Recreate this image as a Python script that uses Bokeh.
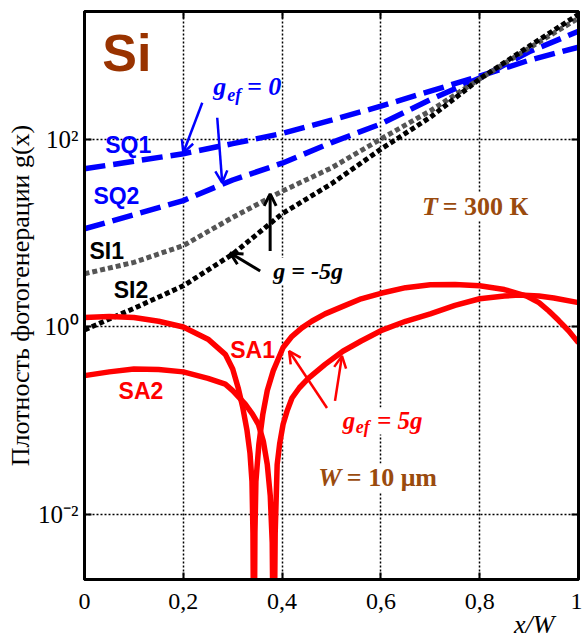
from bokeh.plotting import figure
from bokeh.models import (Label, Arrow, OpenHead, FixedTicker, LinearAxis, LogAxis,
                          Title, CustomJSTickFormatter)
from bokeh.embed import file_html
from bokeh.resources import INLINE

# ---------------- data ----------------
x_grid = [0, 0.1, 0.2, 0.3, 0.4, 0.5, 0.6, 0.7, 0.8, 0.9, 1.0]
sq1 = [49, 59, 71, 91, 117, 162, 229, 331, 479, 708, 977]
sq2 = [11.2, 15.8, 22.4, 37.2, 56.2, 93.3, 148, 269, 457, 871, 1445]
si1 = [3.7, 4.9, 7.4, 14.8, 28.2, 50.1, 102, 204, 447, 955, 1995]
si2 = [0.93, 1.58, 2.75, 6.0, 16.2, 33.9, 79.4, 174, 447, 1000, 2188]

sa1_x = [0, 0.05, 0.1, 0.15, 0.2, 0.25, 0.285, 0.3, 0.311, 0.32, 0.329, 0.335, 0.339, 0.341,
         0.343, 0.345, 0.347, 0.353, 0.361, 0.37, 0.382, 0.402, 0.42, 0.44, 0.46, 0.487,
         0.523, 0.56, 0.6, 0.65, 0.7, 0.75, 0.8, 0.85, 0.895, 0.92, 0.94, 0.96, 0.98, 1.0]
sa1 = [1.26, 1.29, 1.26, 1.15, 1.0, 0.74, 0.51, 0.355, 0.224, 0.141, 0.078, 0.0447, 0.0224, 0.0063,
       1e-4, 0.0063, 0.0224, 0.056, 0.117, 0.209, 0.339, 0.603, 0.794, 0.977, 1.15, 1.38,
       1.66, 2.0, 2.29, 2.63, 2.82, 2.85, 2.75, 2.51, 2.14, 1.82, 1.48, 1.17, 0.91, 0.676]

sa2_x = [0, 0.05, 0.1, 0.15, 0.2, 0.25, 0.285, 0.3, 0.325, 0.34, 0.352, 0.362, 0.37, 0.376, 0.38,
         0.383, 0.386, 0.39, 0.395, 0.402, 0.41, 0.42, 0.435, 0.453, 0.487, 0.523, 0.56, 0.6,
         0.65, 0.7, 0.75, 0.8, 0.85, 0.88, 0.92, 0.95, 1.0]
sa2 = [0.302, 0.331, 0.355, 0.351, 0.331, 0.282, 0.245, 0.209, 0.151, 0.117, 0.0912, 0.060, 0.0339,
       0.0158, 0.005, 1e-4, 0.0063, 0.0339, 0.056, 0.0912, 0.126, 0.174, 0.224, 0.282, 0.398,
       0.550, 0.708, 0.912, 1.15, 1.38, 1.70, 2.0, 2.14, 2.19, 2.14, 2.04, 1.82]

x_ticks = [0, 0.2, 0.4, 0.6, 0.8, 1.0]
y_ticks = [1e-2, 1, 1e2]

# ---------------- figure ----------------
p = figure(width=582, height=643, y_axis_type="log", x_range=(0, 1), y_range=(2e-3, 2.35e3),
           output_backend="svg", toolbar_location=None,
           min_border_left=84, min_border_right=4, min_border_top=11, min_border_bottom=64)

p.outline_line_color = "black"
p.outline_line_width = 3
p.background_fill_color = "white"
p.border_fill_color = "white"

serif = "Liberation Serif"
sans = "Liberation Sans"

xfmt = CustomJSTickFormatter(code="""
if (tick == 0) return '0';
if (tick == 1) return '1';
return tick.toFixed(1).replace('.', ',');
""")
yfmt = CustomJSTickFormatter(code="""
const e = Math.round(Math.log10(tick));
const sup = {'-':'\u207b','0':'\u2070','1':'\u00b9','2':'\u00b2','3':'\u00b3'};
return '10' + String(e).split('').map(c => sup[c]).join('');
""")

for ax in list(p.xaxis) + list(p.yaxis):
    ax.major_label_text_font = serif
    ax.major_label_text_color = "black"
    ax.axis_line_width = 3
    ax.axis_line_color = "black"
    ax.major_tick_in = 7
    ax.major_tick_out = 0
    ax.major_tick_line_width = 2
    ax.major_tick_line_color = "black"
    ax.minor_tick_line_color = None
    ax.major_label_standoff = 6

for ax in p.xaxis:
    ax.ticker = FixedTicker(ticks=x_ticks)
    ax.formatter = xfmt
    ax.major_label_text_font_size = "24px"
    ax.major_label_standoff = 14
for ax in p.yaxis:
    ax.ticker = FixedTicker(ticks=y_ticks)
    ax.formatter = yfmt
    ax.major_label_text_font_size = "25px"
    ax.axis_label = "Плотность фотогенерации g(x)"
    ax.axis_label_text_font = serif
    ax.axis_label_text_font_style = "normal"
    ax.axis_label_text_font_size = "26px"
    ax.axis_label_text_color = "black"
    ax.axis_label_standoff = 0

# mirror ticks on top and right
for loc, cls, ticks in (("above", LinearAxis, x_ticks), ("right", LogAxis, y_ticks)):
    ax = cls(ticker=FixedTicker(ticks=ticks), major_label_text_font_size="1px",
             major_label_text_alpha=0, major_label_standoff=0, major_tick_in=7,
             major_tick_out=0, major_tick_line_width=2, minor_tick_line_color=None,
             axis_line_width=3)
    p.add_layout(ax, loc)

p.xgrid.ticker = FixedTicker(ticks=[0.2, 0.4, 0.6, 0.8])
p.ygrid.ticker = FixedTicker(ticks=y_ticks)
for g in (p.xgrid, p.ygrid):
    g.grid_line_color = "black"
    g.grid_line_dash = "2 2"
    g.grid_line_width = 1.5
    g.minor_grid_line_color = None

p.add_layout(Title(text="x/W", align="right", text_font=serif, text_font_style="italic",
                   text_font_size="26px", text_color="black", standoff=-8, offset=24), "below")

# ---------------- curves ----------------
p.line(x_grid, sq1, line_color="#0000ff", line_width=5.5, line_dash="21 8", line_cap="butt")
p.line(x_grid, sq2, line_color="#0000ff", line_width=5.5, line_dash="21 8", line_cap="butt")
p.line(x_grid, si1, line_color="#555555", line_width=5, line_dash="5 3", line_cap="butt")
p.line(x_grid, si2, line_color="#000000", line_width=5, line_dash="5 3", line_cap="butt")
p.line(sa1_x, sa1, line_color="#ff0000", line_width=5.5, line_join="round")
p.line(sa2_x, sa2, line_color="#ff0000", line_width=5.5, line_join="round")

# ---------------- annotations ----------------
def lab(x, y, text, color, size, font=serif, style="bold italic", bg=None):
    l = Label(x=x, y=y, text=text, text_color=color, text_font=font,
              text_font_size=f"{size}px", text_font_style=style,
              text_baseline="alphabetic", text_align="left",
              y_offset=round(0.33 * size))
    if bg:
        l.background_fill_color = bg
    p.add_layout(l)

brown = "#9a4b0e"
lab(0.036, 560, "Si", "#993300", 52, font=sans, style="bold")
lab(0.042, 72.6, "SQ1", "#0000ff", 23, font=sans, style="bold")
lab(0.018, 20.7, "SQ2", "#0000ff", 23, font=sans, style="bold")
lab(0.010, 5.33, "SI1", "black", 23, font=sans, style="bold")
lab(0.059, 2.04, "SI2", "black", 23, font=sans, style="bold")
lab(0.295, 0.466, "SA1", "#ff0000", 23, font=sans, style="bold")
lab(0.069, 0.170, "SA2", "#ff0000", 23, font=sans, style="bold")

lab(0.2606, 295, "g", "#0000ff", 26, bg="white")
lab(0.289, 261, "ef", "#0000ff", 18)
lab(0.329, 295, "= 0", "#0000ff", 26, bg="white")

lab(0.382, 3.26, "g = -5g", "black", 24, bg="white")

lab(0.523, 0.0813, "g", "#ff0000", 25, bg="white")
lab(0.549, 0.0735, "ef", "#ff0000", 18)
lab(0.592, 0.0813, "= 5g", "#ff0000", 25, bg="white")

lab(0.473, 0.0195, "W", brown, 26, bg="white")
lab(0.531, 0.0195, "= 10 μm", brown, 26, style="bold", bg="white")

lab(0.683, 15.5, "T", brown, 26, bg="white")
lab(0.725, 15.5, "= 300 К", brown, 26, style="bold", bg="white")

def arr(x0, y0, x1, y1, color, w):
    p.add_layout(Arrow(x_start=x0, y_start=y0, x_end=x1, y_end=y1, line_color=color,
                       line_width=w, end=OpenHead(size=12, line_color=color, line_width=w)))

arr(0.2384, 249, 0.2, 72.6, "#0000ff", 2.5)
arr(0.2687, 172, 0.2788, 34.7, "#0000ff", 2.5)
arr(0.3758, 6.5, 0.3758, 26.4, "black", 3)
arr(0.3556, 3.97, 0.2949, 6.18, "black", 3)
arr(0.4909, 0.136, 0.4141, 0.553, "#ff0000", 2.5)
arr(0.5071, 0.162, 0.5212, 0.490, "#ff0000", 2.5)

open("out.html", "w").write(file_html(p, INLINE))
